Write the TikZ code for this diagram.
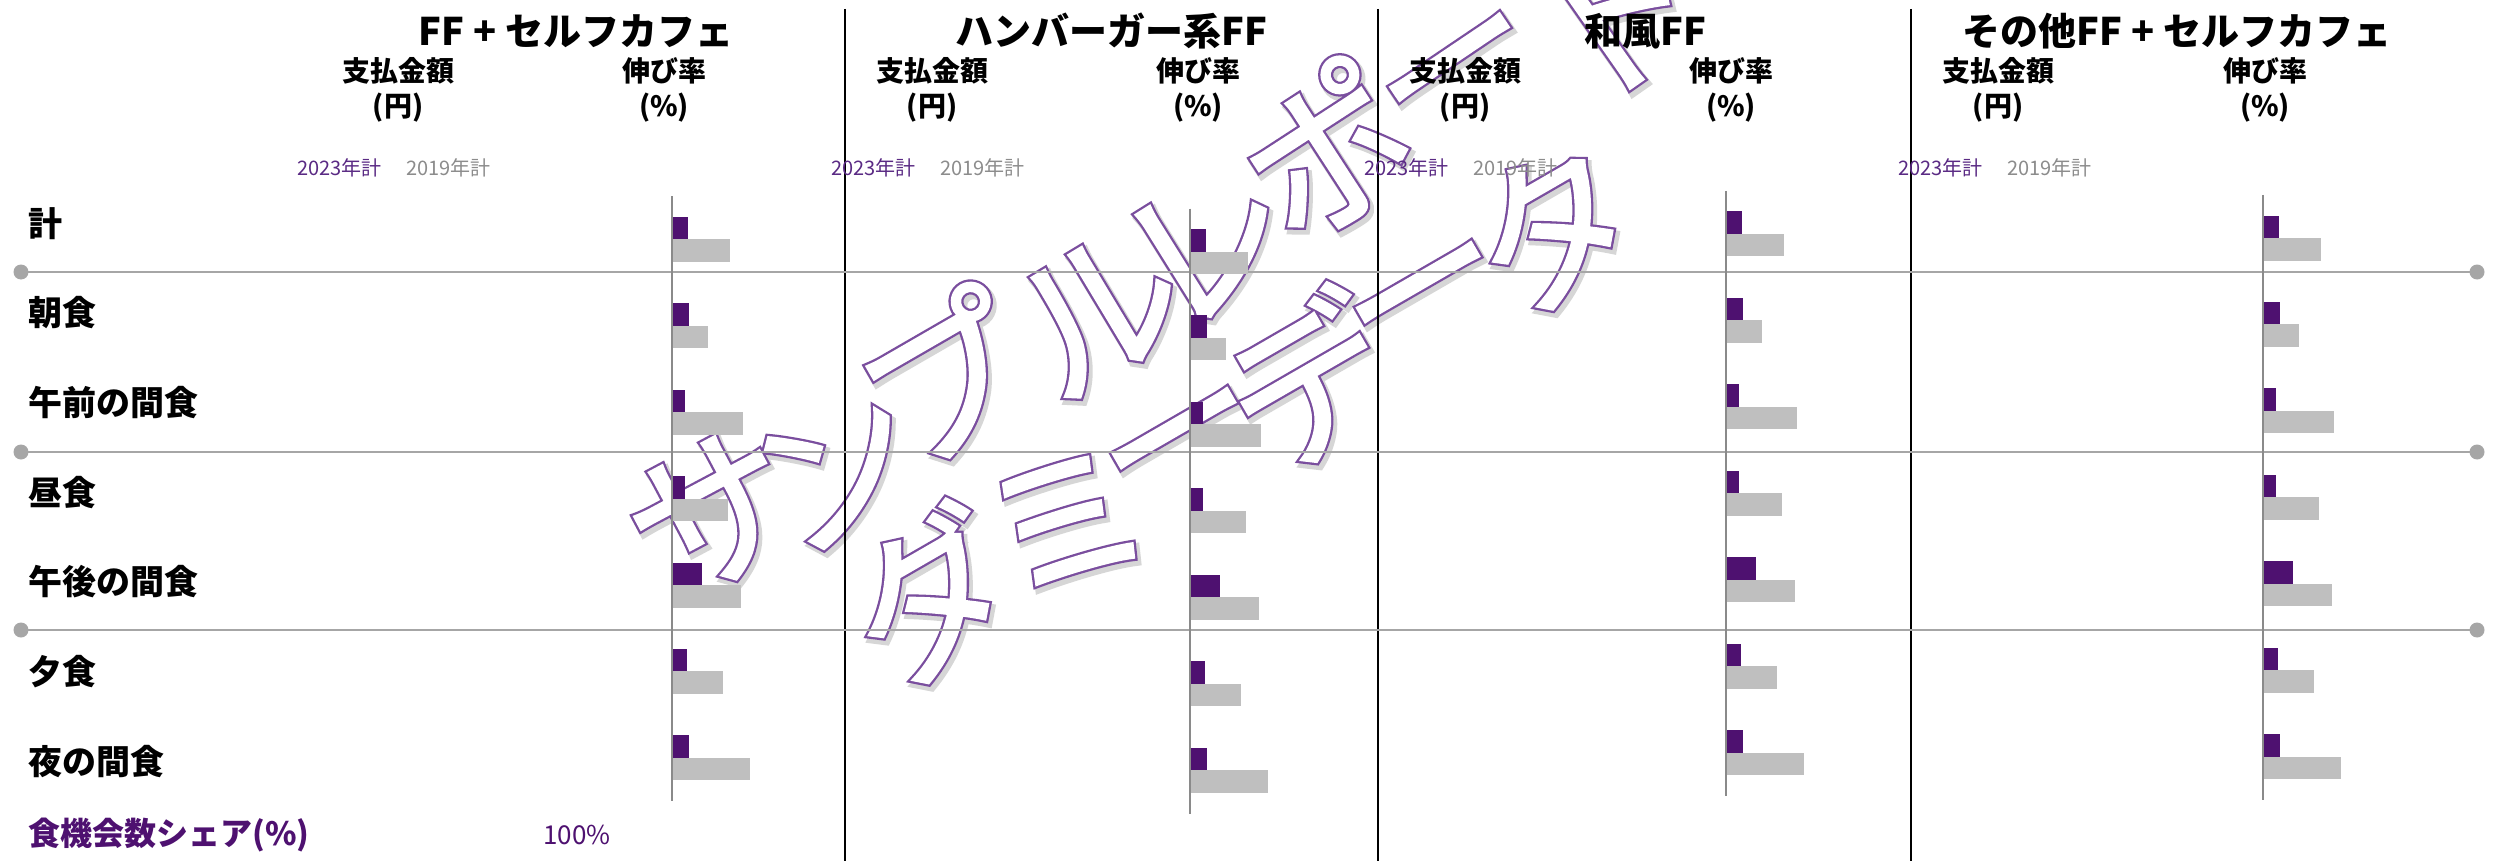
\documentclass[tikz,border=0pt]{standalone}
\usepackage{fontspec}
\setmainfont{Noto Sans CJK JP}
\newfontfamily\wmfont{Noto Sans CJK JP}
\usepackage{xcolor}
\usepackage{tikz}

\definecolor{barpurple}{HTML}{4E1170}
\definecolor{bargray}{HTML}{BFBFBF}
\definecolor{rulegray}{HTML}{A6A6A6}
\definecolor{axisgray}{HTML}{8A8A8A}
\definecolor{keypurple}{HTML}{5A2A84}
\definecolor{keygray}{HTML}{8C8C8C}
\definecolor{wmpurple}{HTML}{7A4E9E}

% glyphs painted with a text render mode (1 stroke, 2 fill+stroke)
\newcommand\glyphpaint[3]{\special{pdf:literal direct #1 Tr #2 w}#3\special{pdf:literal direct 0 Tr}}

\tikzset{
  title/.style={font=\bfseries\fontsize{38}{40}\selectfont},
  colhead/.style={font=\bfseries\fontsize{28}{30}\selectfont},
  rowlabel/.style={anchor=west,font=\bfseries\fontsize{34}{36}\selectfont},
  yearkey/.style={anchor=west,font=\fontsize{20}{22}\selectfont},
  sepline/.style={rulegray,line width=2.6pt},
  axisline/.style={axisgray,line width=1.8pt},
  colline/.style={black,line width=1.3pt},
  wmark/.style={font=\wmfont\fontsize{165}{170}\selectfont}
}

% watermark glyphs: char/x/y/angle
\def\wmglyphs{サ/714/514/28,ン/838/470/29,プ/944/378/30,ル/1098/312/31,レ/1208/244/32,ポ/1326/150/33,ー/1465/80/34,ト/1615/18/35,
  ダ/930/595/30,ミ/1066/522/30,ー/1188/452/30,デ/1308/380/30,ー/1432/306/30,タ/1552/228/30}

\begin{document}
\begin{tikzpicture}[x=1pt,y=-1pt,every node/.style={inner sep=0pt}]
\useasboundingbox (0,0) rectangle (2496,861);
\fill[white] (0,0) rectangle (2496,861);

% watermark (under the chart)
\foreach \ch/\x/\y/\r in \wmglyphs
  \node[wmark,rotate=\r,text=black!16] at (\x+3,\y+4) {\glyphpaint{2}{9}{\ch}};
\foreach \ch/\x/\y/\r in \wmglyphs
  \node[wmark,rotate=\r,text=wmpurple] at (\x,\y) {\glyphpaint{1}{7.4}{\ch}};
\foreach \ch/\x/\y/\r [count=\i] in \wmglyphs
  \node[wmark,rotate=\r,text=white] (wm\i) at (\x,\y) {\glyphpaint{2}{2.8}{\ch}};

% column rules
\foreach \x [count=\i] in {845,1378,1911}
  \draw[colline] (\x,9) coordinate (ct\i) -- (\x,861) coordinate (cb\i);

% titles
\node[title] (t1) at (576,31) {FF + セルフカフェ};
\node[title] (t2) at (1111,31) {ハンバーガー系FF};
\node[title] (t3) at (1645,31) {和風FF};
\node[title] (t4) at (2177,31) {その他FF + セルフカフェ};

% column heads
\foreach \xa/\xb [count=\i] in {398/664,932/1198,1465/1731,1998/2265} {
  \node[colhead] (amt\i) at (\xa,71) {支払金額};
  \node[colhead] (yen\i) at (\xa,108) {(円)};
  \node[colhead] (gr\i) at (\xb,71) {伸び率};
  \node[colhead] (pc\i) at (\xb,108) {(\%)};
}

% year keys
\foreach \x [count=\i] in {297,831,1364,1898} {
  \node[yearkey,text=keypurple] (ka\i) at (\x,168) {2023年計};
  \node[yearkey,text=keygray] (kb\i) at (\x+109,168) {2019年計};
}

% row labels
\node[rowlabel] (r0) at (28,224) {計};
\node[rowlabel] (r1) at (28,313) {朝食};
\node[rowlabel] (r2) at (28,403) {午前の間食};
\node[rowlabel] (r3) at (28,493) {昼食};
\node[rowlabel] (r4) at (28,582) {午後の間食};
\node[rowlabel] (r5) at (28,672) {夕食};
\node[rowlabel] (r6) at (28,762) {夜の間食};

% separators
\foreach \y [count=\i] in {272,452,630} {
  \draw[sepline] (21,\y) coordinate (sl\i) -- (2477,\y) coordinate (sr\i);
  \fill[rulegray] (sl\i) circle (7.5pt) (sr\i) circle (7.5pt);
}

% bars
\foreach \ax/\ay in {672/216.7,1190/229,1726/211.4,2263/215.5} {
  \foreach \pb/\gb [count=\r from 0] in {16/58,17/36,13/71,13/56,30/69,15/51,17/78} {
    \fill[barpurple] (\ax,\ay+86.45*\r) rectangle ++(\pb,22.5);
    \fill[bargray] (\ax,\ay+86.45*\r+22.5) rectangle ++(\gb,22.5);
  }
  \draw[axisline] (\ax,\ay-20.5) -- (\ax,\ay+584.5);
}

% footer
\node[anchor=west,text=barpurple,font=\bfseries\fontsize{32}{34}\selectfont] (share) at (28,835) {食機会数シェア(\%)};
\node[text=barpurple,font=\fontsize{26}{28}\selectfont] (full) at (577,835) {100\%};
\end{tikzpicture}
\end{document}
